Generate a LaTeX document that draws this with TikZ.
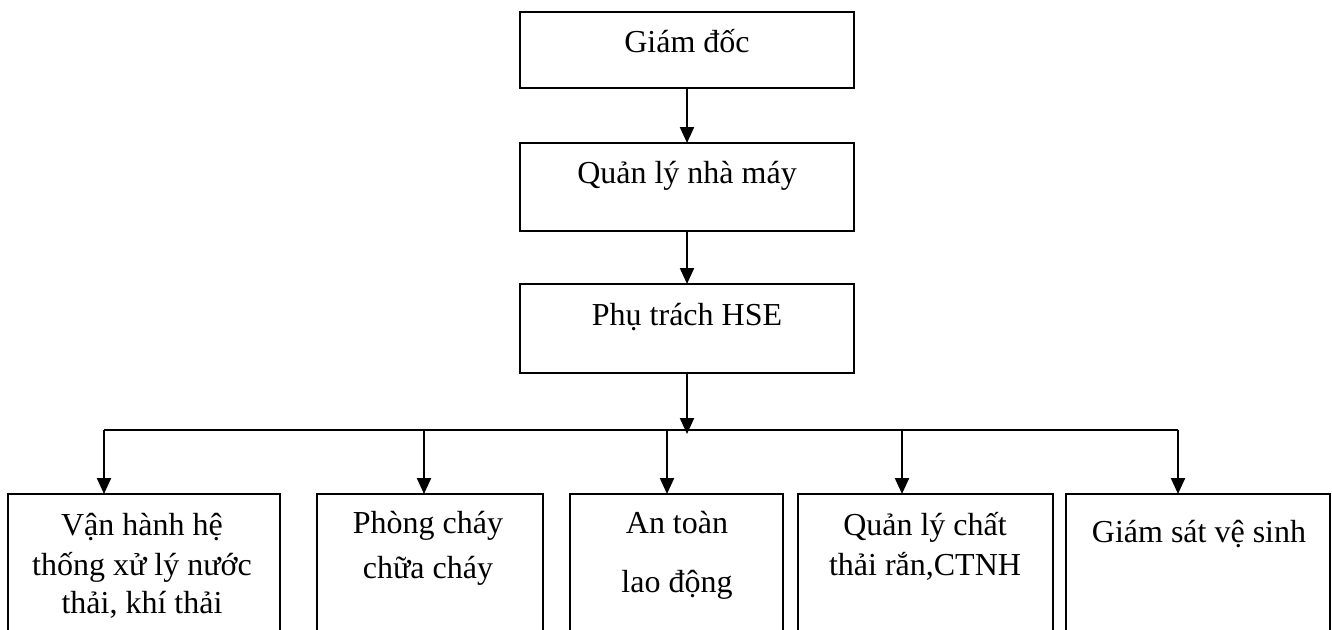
\documentclass[tikz,border=0pt]{standalone}
\usepackage{fontspec}
\setmainfont{Liberation Serif}
\usetikzlibrary{arrows.meta}
\begin{document}
\begin{tikzpicture}[x=1pt,y=-1pt,
  box/.style={draw,line width=1.3pt,inner sep=0pt,outer sep=0pt},
  lbl/.style={font=\fontsize{32}{40}\selectfont,align=center,anchor=base,inner sep=0pt},
  link/.style={line width=2.2pt,-{Triangle[width=14pt,length=16pt]}},
  bus/.style={line width=2.2pt}]
\useasboundingbox (0,0) rectangle (1332,629);
\clip (0,0) rectangle (1332,629);

% management chain
\node[box,minimum width=334pt,minimum height=76pt] (gd) at (687,50) {};
\node[box,minimum width=334pt,minimum height=88pt] (ql) at (687,187) {};
\node[box,minimum width=334pt,minimum height=89pt] (hse) at (687,328.5) {};

\node[lbl] (tgd) at (687,52) {Giám đốc};
\node[lbl] (tql) at (687,183) {Quản lý nhà máy};
\node[lbl] (thse) at (687,325) {Phụ trách HSE};

% departments (boxes run past the lower edge)
\node[box,minimum width=272pt,minimum height=166pt] (b1) at (144,577) {};
\node[box,minimum width=226pt,minimum height=166pt] (b2) at (430,577) {};
\node[box,minimum width=213pt,minimum height=166pt] (b3) at (676.5,577) {};
\node[box,minimum width=255pt,minimum height=166pt] (b4) at (925.5,577) {};
\node[box,minimum width=264pt,minimum height=166pt] (b5) at (1198,577) {};

% multi-line labels are placed by the baseline of their last line
\node[lbl] (tb1) at (142,613) {Vận hành hệ\\thống xử lý nước\\[-2pt]thải, khí thải};
\node[lbl] (tb2) at (428,578) {Phòng cháy\\[5pt]chữa cháy};
\node[lbl] (tb3) at (677,592) {An toàn\\[19pt]lao động};
\node[lbl] (tb4) at (925,575) {Quản lý chất\\thải rắn,CTNH};
\node[lbl] (tb5) at (1199,542) {Giám sát vệ sinh};

% distribution bus
\coordinate (d1) at (104,430);
\coordinate (d2) at (424,430);
\coordinate (d3) at (667,430);
\coordinate (d4) at (902,430);
\coordinate (d5) at (1178,430);

\draw[link] (gd.south) -- (ql.north);
\draw[link] (ql.south) -- (hse.north);
\draw[link] (hse.south) -- ([yshift=-4pt]hse.south |- d1);
\draw[bus] (d1) -- (d5);
\draw[link] (d1) -- (d1 |- b1.north);
\draw[link] (d2) -- (d2 |- b2.north);
\draw[link] (d3) -- (d3 |- b3.north);
\draw[link] (d4) -- (d4 |- b4.north);
\draw[link] (d5) -- (d5 |- b5.north);
\end{tikzpicture}
\end{document}
